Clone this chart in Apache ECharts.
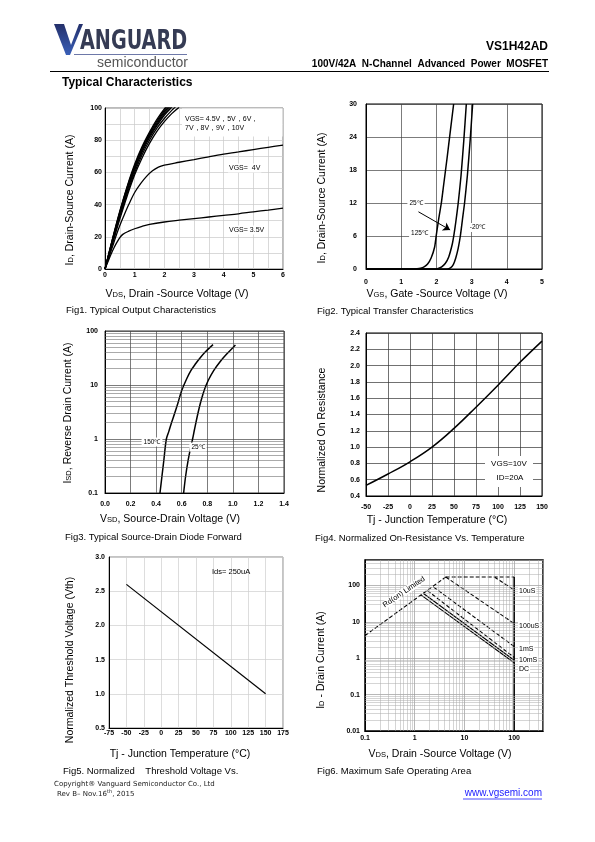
<!DOCTYPE html>
<html><head><meta charset="utf-8">
<script src="https://cdn.jsdelivr.net/npm/echarts@6/dist/echarts.min.js"></script>
<style>html,body{margin:0;padding:0;background:#fff}#c{width:595px;height:842px}</style>
</head><body><div id="c"></div>
<script>
// ---------- Fig1 data: output characteristics ----------
const f1_vds_35 = [0,0.1,0.2,0.3,0.4,0.5,0.6,0.8,1,1.25,1.5,2,2.5,3,3.5,4,4.5,5,5.5,6];
const f1_id_35  = [0,4.5,9,13,16.5,19.5,21.5,23.5,25,26.5,27.7,29.2,30.3,31.3,32.3,33.3,34.3,35.5,36.6,37.8];
const f1_vds_4  = [0,0.1,0.2,0.3,0.4,0.5,0.6,0.8,1,1.2,1.4,1.6,1.8,2,2.5,3,3.5,4,4.5,5,5.5,6];
const f1_id_4   = [0,5.5,11,16.5,22,27,31.5,40,47.5,53,57.5,61,63.3,64.5,66.3,68,69.7,71.3,72.7,74.2,75.6,77];
const f1_vds_hi = [0,0.25,0.5,0.75,1,1.25,1.5,1.75,2,2.25,2.5];
const f1_id_45v = [0,15.5,31,45.5,58.5,69,78,85.5,91.5,96.5,100.5];
const f1_id_5v  = [0,16.5,32.5,47,60,71,80,87.5,93.5,98.5,103];
const f1_id_6v  = [0,17,33.5,48.5,61.5,72.5,81.5,89,95.5,100.5,105];
const f1_id_7v  = [0,17.5,34.5,49.5,62.5,73.5,82.5,90,96.5,101.5,106];
const f1_id_8v  = [0,18,35,50.5,63.5,74.5,83.5,91,97.5,102.5,107];
const f1_id_9v  = [0,18.3,35.5,51,64.2,75.2,84.2,92,98.5,103.5,108];
const f1_id_10v = [0,18.6,36,51.5,65,76,85,93,99.5,104.5,109];

// ---------- Fig2 data: transfer characteristics ----------
const f2_vgs_125 = [0,1.3,1.45,1.55,1.65,1.75,1.85,1.95,2.0,2.07,2.14,2.2,2.3,2.4,2.49];
const f2_id_125  = [0,0,0.05,0.15,0.4,0.9,2,4,6.3,9.3,12,15,20,25.3,30];
const f2_vgs_25  = [0,1.95,2.05,2.15,2.25,2.35,2.45,2.5,2.55,2.62,2.7,2.78,2.85];
const f2_id_25   = [0,0,0.1,0.4,1.0,2.2,4.5,6.3,8.5,12,17,23.5,30];
const f2_vgs_m20 = [0,2.3,2.4,2.48,2.55,2.62,2.68,2.74,2.8,2.88,2.96,3.03];
const f2_id_m20  = [0,0,0.2,0.8,2,3.8,6,9,12,17,23.5,30];
const f2_arrow_v = [1.49, 2.39];
const f2_arrow_i = [10.4, 7.1];

// ---------- Fig3 data: source-drain diode ----------
const f3_vsd_150 = [0.43,0.445,0.46,0.48,0.5,0.52,0.545,0.57,0.6,0.64,0.675,0.71,0.74,0.78,0.83,0.845];
const f3_isd_150 = [0.1,0.2,0.4,1.0,1.4,2.0,3.0,4.6,7.9,13.2,19,25,31,40,52,56];
const f3_vsd_25  = [0.615,0.63,0.65,0.67,0.685,0.7,0.727,0.75,0.78,0.81,0.85,0.9,0.95,1.0,1.02];
const f3_isd_25  = [0.1,0.2,0.4,0.7,1,1.5,3,5,8.5,12.5,18.5,27,37,49,55];
const f3_minor   = [0.2,0.3,0.4,0.5,0.6,0.7,0.8,0.9,2,3,4,5,6,7,8,9,20,30,40,50,60,70,80,90];

// ---------- Fig4 data: normalized on-resistance ----------
const f4_tj = [-50,-25,0,25,50,75,100,125,150];
const f4_r  = [0.53,0.67,0.82,1.0,1.23,1.49,1.76,2.04,2.30];

// ---------- Fig5 data: normalized threshold ----------
const f5_tj  = [-50,150];
const f5_vth = [2.6,1.0];

// ---------- Fig6 data: SOA ----------
const f6_rds_v = [0.1,4.2],  f6_rds_i = [4.2,170];
const f6_top_v = [4.2,100],  f6_top_i = [170,170];
const f6_10us_v = [40,100],  f6_10us_i = [170,75];
const f6_100us_v = [4.2,100], f6_100us_i = [170,9];
const f6_1ms_v = [2.4,100],  f6_1ms_i = [90,2.1];
const f6_10ms_v = [1.8,100], f6_10ms_i = [72,1.05];
const f6_dca_v = [1.5,100],  f6_dca_i = [60,0.88];
const f6_dc_v = [1.35,100],  f6_dc_i = [54,0.75];
const f6_vmax_v = [100,100], f6_vmax_i = [170,0.01];
const f6_minor_x = [0.2,0.3,0.4,0.5,0.6,0.7,0.8,0.9,2,3,4,5,6,7,8,9,20,30,40,50,60,70,80,90,200,300];
const f6_minor_y = [0.02,0.03,0.04,0.05,0.06,0.07,0.08,0.09,0.2,0.3,0.4,0.5,0.6,0.7,0.8,0.9,2,3,4,5,6,7,8,9,20,30,40,50,60,70,80,90,200,300,400];

// ---------- helpers ----------
const FF = "'Liberation Sans', Arial, sans-serif";
const pairs = (xs, ys) => xs.map((x, i) => [x, ys[i]]);
function line(gi, xs, ys, o) {
  o = o || {};
  return {
    type: 'line', xAxisIndex: gi, yAxisIndex: gi, data: pairs(xs, ys),
    symbol: 'none', showSymbol: false, silent: true, animation: false, z: 3,
    smooth: o.smooth === undefined ? 0.35 : o.smooth,
    lineStyle: { color: '#000', width: o.width || 1.3, type: o.dash || 'solid' },
    markLine: o.markLine
  };
}
function minorLines(list, key, color) {
  return {
    silent: true, symbol: 'none', animation: false, label: { show: false },
    lineStyle: { color: color, width: 0.5, type: 'solid' },
    emphasis: { disabled: true },
    data: list.map(v => ({ [key]: v }))
  };
}
const isPow10 = v => Math.abs(Math.log10(v) - Math.round(Math.log10(v))) < 1e-6;
const fmtLog = v => isPow10(v) ? String(+v.toPrecision(3)) : '';
function lab(margin, fmt) {
  const o = { margin: margin, fontSize: 7, fontWeight: 'bold', color: '#000', fontFamily: FF, hideOverlap: false };
  if (fmt) o.formatter = fmt;
  return o;
}
function ax(gi, extra, splitColor, axisColor) {
  return Object.assign({
    gridIndex: gi, type: 'value',
    axisLine: { show: true, onZero: false, lineStyle: { color: axisColor || '#000', width: 1 } },
    axisTick: { show: false },
    splitLine: { show: true, lineStyle: { color: splitColor, width: 0.7 } }
  }, extra);
}
function T(x, y, text, st, rot, z) {
  return {
    type: 'text', x: x, y: y, rotation: rot || 0, z: z || 10, silent: true,
    style: Object.assign({ text: text, fill: '#000', fontSize: 10, fontFamily: FF, align: 'left', verticalAlign: 'middle' }, st || {})
  };
}
function R(x, y, w, h, fill, z) {
  return { type: 'rect', z: z || 1, silent: true, shape: { x: x, y: y, width: w, height: h }, style: { fill: fill || '#fff' } };
}
const sub = (a, b, c, fs) => ({
  text: '{n|' + a + '}{s|' + b + '}{n|' + c + '}',
  rich: { n: { fontSize: fs, fontFamily: FF, fill: '#000' }, s: { fontSize: fs * 0.72, fontFamily: FF, fill: '#000', padding: [2, 0, 0, 0] } }
});
const RT = Math.PI / 2;

const chart = echarts.init(document.getElementById('c'), null, { renderer: 'canvas' });

const logoText = T(80, 42, 'ANGUARD', { fontSize: 26, fontWeight: 'bold', fontFamily: "'Liberation Sans Narrow','DejaVu Sans Condensed',Arial", fill: '#353b54' });
logoText.scaleX = 0.82;

const option = {
  backgroundColor: '#fff',
  animation: false,
  grid: [
    { left: 105, top: 108, width: 178, height: 161, show: true, borderColor: '#777', borderWidth: 1 },
    { left: 366, top: 104, width: 176, height: 165, show: true, borderColor: '#000', borderWidth: 1 },
    { left: 105, top: 331, width: 179, height: 162, show: true, borderColor: '#333', borderWidth: 1 },
    { left: 366, top: 333, width: 176, height: 163, show: true, borderColor: '#000', borderWidth: 1 },
    { left: 109, top: 557, width: 174, height: 171, show: true, borderColor: '#888', borderWidth: 1 },
    { left: 365, top: 560, width: 178, height: 171, show: true, borderColor: '#000', borderWidth: 1.5 }
  ],
  xAxis: [
    ax(0, { min: 0, max: 6, interval: 0.5, axisLabel: lab(3, v => Math.abs(v - Math.round(v)) < 1e-9 ? String(Math.round(v)) : '') }, '#c8c8c8'),
    ax(1, { min: 0, max: 5, interval: 1, axisLabel: lab(10) }, '#444'),
    ax(2, { min: 0, max: 1.4, interval: 0.2, axisLabel: lab(8, v => v.toFixed(1)) }, '#444'),
    ax(3, { min: -50, max: 150, interval: 25, axisLabel: lab(8) }, '#333'),
    ax(4, { min: -75, max: 175, interval: 25, axisLabel: lab(2) }, '#cfcfcf'),
    ax(5, { type: 'log', logBase: 10, min: 0.1, max: 380, axisLabel: lab(4, fmtLog) }, '#999')
  ],
  yAxis: [
    ax(0, { min: 0, max: 100, interval: 10, axisLabel: lab(3, v => v % 20 === 0 ? String(v) : '') }, '#c8c8c8'),
    ax(1, { min: 0, max: 30, interval: 6, axisLabel: lab(9) }, '#444'),
    ax(2, { type: 'log', logBase: 10, min: 0.1, max: 100, axisLabel: lab(7, fmtLog) }, '#444'),
    ax(3, { min: 0.4, max: 2.4, interval: 0.2, axisLabel: lab(6, v => v.toFixed(1)) }, '#333'),
    ax(4, { min: 0.5, max: 3.0, interval: 0.5, axisLabel: lab(4, v => v.toFixed(1)) }, '#cfcfcf'),
    ax(5, { type: 'log', logBase: 10, min: 0.01, max: 500, axisLabel: lab(5, fmtLog) }, '#999')
  ],
  series: [
    // Fig1
    line(0, f1_vds_35, f1_id_35),
    line(0, f1_vds_4, f1_id_4),
    line(0, f1_vds_hi, f1_id_45v),
    line(0, f1_vds_hi, f1_id_5v),
    line(0, f1_vds_hi, f1_id_6v),
    line(0, f1_vds_hi, f1_id_7v),
    line(0, f1_vds_hi, f1_id_8v),
    line(0, f1_vds_hi, f1_id_9v),
    line(0, f1_vds_hi, f1_id_10v),
    // Fig2
    line(1, f2_vgs_125, f2_id_125, { width: 1.5, smooth: 0.2 }),
    line(1, f2_vgs_25, f2_id_25, { width: 1.5, smooth: 0.2 }),
    line(1, f2_vgs_m20, f2_id_m20, { width: 1.5, smooth: 0.2, markLine: {
      silent: true, animation: false, symbol: ['none', 'arrow'], symbolSize: 7, label: { show: false },
      lineStyle: { color: '#000', width: 1, type: 'solid' },
      data: [[{ coord: [f2_arrow_v[0], f2_arrow_i[0]] }, { coord: [f2_arrow_v[1], f2_arrow_i[1]] }]]
    } }),
    // Fig3
    line(2, f3_vsd_150, f3_isd_150, { width: 1.5, markLine: minorLines(f3_minor, 'yAxis', '#555') }),
    line(2, f3_vsd_25, f3_isd_25, { width: 1.5 }),
    // Fig4
    line(3, f4_tj, f4_r, { width: 1.5, smooth: 0.4 }),
    // Fig5
    line(4, f5_tj, f5_vth, { width: 1.2, smooth: false }),
    // Fig6
    line(5, f6_rds_v, f6_rds_i, { dash: [4, 2], width: 1.1, smooth: false, markLine: minorLines(f6_minor_x, 'xAxis', '#aaa') }),
    line(5, f6_top_v, f6_top_i, { dash: [4, 2], width: 1.1, smooth: false, markLine: minorLines(f6_minor_y, 'yAxis', '#aaa') }),
    line(5, f6_10us_v, f6_10us_i, { dash: [4, 2], width: 1.1, smooth: false }),
    line(5, f6_100us_v, f6_100us_i, { dash: [4, 2], width: 1.1, smooth: false }),
    line(5, f6_1ms_v, f6_1ms_i, { dash: [4, 2], width: 1.1, smooth: false }),
    line(5, f6_10ms_v, f6_10ms_i, { dash: [4, 2], width: 1.1, smooth: false }),
    line(5, f6_dca_v, f6_dca_i, { width: 1.1, smooth: false }),
    line(5, f6_dc_v, f6_dc_i, { width: 1.1, smooth: false }),
    line(5, f6_vmax_v, f6_vmax_i, { width: 1.5, smooth: false })
  ],
  graphic: { elements: [
    // ----- header / logo -----
    { type: 'polygon', z: 5, silent: true, shape: { points: [[54,24],[64,24],[71,45],[79,24],[83,24],[70,55],[66,55]] },
      style: { fill: new echarts.graphic.LinearGradient(0, 0, 0, 1, [{ offset: 0, color: '#24306a' }, { offset: 1, color: '#3a5fb8' }]) } },
    logoText,
    { type: 'line', z: 5, silent: true, shape: { x1: 74, y1: 54.5, x2: 187, y2: 54.5 }, style: { stroke: '#6d78a8', lineWidth: 1 } },
    T(188, 63, 'semiconductor', { fontSize: 14, fill: '#555', align: 'right' }),
    T(548, 47, 'VS1H42AD', { fontSize: 12, fontWeight: 'bold', align: 'right' }),
    T(548, 64, '100V/42A  N-Channel  Advanced  Power  MOSFET', { fontSize: 10, fontWeight: 'bold', align: 'right' }),
    { type: 'line', z: 5, silent: true, shape: { x1: 50, y1: 71.5, x2: 549, y2: 71.5 }, style: { stroke: '#000', lineWidth: 1 } },
    T(62, 83, 'Typical Characteristics', { fontSize: 12, fontWeight: 'bold' }),

    // ----- Fig1 -----
    R(182, 108.5, 100.5, 28),
    T(185, 119, 'VGS= 4.5V，5V，6V，', { fontSize: 7 }),
    T(185, 128, '7V，8V，9V，10V', { fontSize: 7 }),
    T(228, 168, 'VGS=  4V', { fontSize: 7, backgroundColor: '#fff', padding: [1, 1] }),
    T(228, 230, 'VGS= 3.5V', { fontSize: 7, backgroundColor: '#fff', padding: [1, 1] }),
    T(70, 200, '', Object.assign({ align: 'center' }, sub('I', 'D', ', Drain-Source Current (A)', 10.5)), RT),
    T(177, 294, '', Object.assign({ align: 'center' }, sub('V', 'DS', ', Drain -Source Voltage (V)', 10.5))),
    T(66, 310, 'Fig1. Typical Output Characteristics', { fontSize: 9.5 }),

    // ----- Fig2 -----
    T(416, 203, '25℃', { fontSize: 6.5, align: 'center', backgroundColor: '#fff', padding: [1, 2] }),
    T(419.5, 233, '125℃', { fontSize: 6.5, align: 'center', backgroundColor: '#fff', padding: [1, 2] }),
    T(477.5, 227.5, '-20℃', { fontSize: 6.5, align: 'center', backgroundColor: '#fff', padding: [1, 2] }),
    T(322, 198, '', Object.assign({ align: 'center' }, sub('I', 'D', ', Drain-Source Current (A)', 10.5)), RT),
    T(437, 294, '', Object.assign({ align: 'center' }, sub('V', 'GS', ', Gate -Source Voltage (V)', 10.5))),
    T(317, 311, 'Fig2. Typical Transfer Characteristics', { fontSize: 9.5 }),

    // ----- Fig3 -----
    T(152, 442, '150℃', { fontSize: 6.5, align: 'center', backgroundColor: '#fff', padding: [1, 2] }),
    T(198, 447, '25℃', { fontSize: 6.5, align: 'center', backgroundColor: '#fff', padding: [1, 2] }),
    T(68, 413, '', Object.assign({ align: 'center' }, sub('I', 'SD', ', Reverse Drain Current (A)', 10.5)), RT),
    T(170, 519, '', Object.assign({ align: 'center' }, sub('V', 'SD', ', Source-Drain Voltage (V)', 10.5))),
    T(65, 537, 'Fig3. Typical Source-Drain Diode Forward', { fontSize: 9.5 }),

    // ----- Fig4 -----
    R(485, 456, 48, 31),
    T(509, 464, 'VGS=10V', { fontSize: 8, align: 'center' }),
    T(510, 477.5, 'ID=20A', { fontSize: 8, align: 'center' }),
    T(322, 430, 'Normalized On Resistance', { fontSize: 10.5, align: 'center' }, RT),
    T(437, 520, 'Tj - Junction Temperature (°C)', { fontSize: 10.5, align: 'center' }),
    T(315, 538, 'Fig4. Normalized On-Resistance Vs. Temperature', { fontSize: 9.5 }),

    // ----- Fig5 -----
    T(212, 572, 'Ids= 250uA', { fontSize: 7.5 }),
    T(70, 660, 'Normalized Threshold Voltage (Vth)', { fontSize: 10.5, align: 'center' }, RT),
    T(180, 754, 'Tj - Junction Temperature (°C)', { fontSize: 10.5, align: 'center' }),
    T(63, 771, 'Fig5. Normalized    Threshold Voltage Vs.', { fontSize: 9.5 }),

    // ----- Fig6 -----
    T(404, 592, 'Rd(on) Limited', { fontSize: 7.5, align: 'center', backgroundColor: '#fff', padding: [0, 1] }, 34 * Math.PI / 180),
    T(518, 591, '10uS', { fontSize: 7, backgroundColor: '#fff', padding: [1, 1] }),
    T(518, 626, '100uS', { fontSize: 7, backgroundColor: '#fff', padding: [1, 1] }),
    T(518, 649, '1mS', { fontSize: 7, backgroundColor: '#fff', padding: [1, 1] }),
    T(518, 660, '10mS', { fontSize: 7, backgroundColor: '#fff', padding: [1, 1] }),
    T(518, 669, 'DC', { fontSize: 7, backgroundColor: '#fff', padding: [1, 1] }),
    T(321, 660, '', Object.assign({ align: 'center' }, sub('I', 'D', ' - Drain Current (A)', 10.5)), RT),
    T(440, 754, '', Object.assign({ align: 'center' }, sub('V', 'DS', ', Drain -Source Voltage (V)', 10.5))),
    T(317, 771, 'Fig6. Maximum Safe Operating Area', { fontSize: 9.5 }),

    // ----- footer -----
    T(54, 784, 'Copyright® Vanguard Semiconductor Co., Ltd', { fontSize: 7, fontFamily: "'DejaVu Sans', Arial", fill: '#222' }),
    T(57, 794, '', {
      text: '{a|Rev B– Nov.16}{s|th}{a|, 2015}',
      rich: { a: { fontSize: 7, fontFamily: "'DejaVu Sans', Arial", fill: '#222' }, s: { fontSize: 5, fontFamily: "'DejaVu Sans', Arial", fill: '#222', padding: [0, 0, 5, 0] } }
    }),
    T(542, 793, 'www.vgsemi.com', { fontSize: 10, fill: '#1a1aff', align: 'right' }),
    { type: 'line', z: 5, silent: true, shape: { x1: 463, y1: 799, x2: 542, y2: 799 }, style: { stroke: '#1a1aff', lineWidth: 0.8 } }
  ] }
};
chart.setOption(option);
</script>
</body></html>
